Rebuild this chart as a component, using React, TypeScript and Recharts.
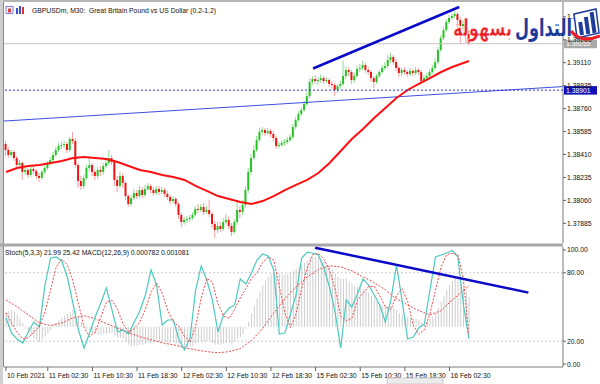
import React from 'react'
import { Bar, ComposedChart, Line, ReferenceLine, XAxis, YAxis } from 'recharts'

const FONT = '"Liberation Sans", Arial, sans-serif'
const AR_FONT = '"DejaVu Sans", sans-serif'

// GBPUSDm M30 bars, one entry per bar (open of each bar = previous close)
const firstOpen = 1.3849
const closes = [
  1.38444, 1.38406, 1.38429, 1.38383, 1.3833, 1.38345, 1.38277, 1.38292, 1.38254, 1.38299,
  1.38284, 1.38246, 1.38231, 1.38277, 1.38307, 1.38345, 1.38368, 1.38406, 1.38444, 1.38475,
  1.38482, 1.3849, 1.38444, 1.38528, 1.38513, 1.3833, 1.38208, 1.3817, 1.38231, 1.38307,
  1.3833, 1.38277, 1.38246, 1.38292, 1.38277, 1.38322, 1.38345, 1.38383, 1.38353, 1.38216,
  1.3817, 1.38246, 1.38193, 1.38093, 1.38032, 1.38078, 1.38116, 1.38093, 1.38139, 1.38101,
  1.38147, 1.3817, 1.38139, 1.38116, 1.38147, 1.38124, 1.38139, 1.38109, 1.38086, 1.38055,
  1.38071, 1.38032, 1.37949, 1.37895, 1.37911, 1.37918, 1.37926, 1.37949, 1.37995, 1.37987,
  1.3801, 1.37972, 1.37987, 1.37956, 1.3788, 1.37834, 1.37865, 1.37842, 1.37895, 1.37911,
  1.37865, 1.37819, 1.37895, 1.37987, 1.37972, 1.38025, 1.38139, 1.38277, 1.38383, 1.38444,
  1.38521, 1.38582, 1.38597, 1.38574, 1.38589, 1.38566, 1.38536, 1.38475, 1.38482, 1.38498,
  1.38505, 1.38521, 1.38544, 1.3862, 1.38673, 1.38719, 1.38749, 1.38795, 1.38856, 1.38963,
  1.38986, 1.3897, 1.38978, 1.38993, 1.3897, 1.38978, 1.38948, 1.3894, 1.38902, 1.38932,
  1.38948, 1.39009, 1.39054, 1.39039, 1.38978, 1.39009, 1.39062, 1.3907, 1.39092, 1.39054,
  1.39039, 1.38993, 1.38963, 1.39009, 1.39039, 1.3907, 1.39085, 1.39131, 1.39153, 1.39115,
  1.3907, 1.39031, 1.39054, 1.39039, 1.39024, 1.39047, 1.39031, 1.39054, 1.39039, 1.3897,
  1.38993, 1.39009, 1.39039, 1.3907, 1.39115, 1.39207, 1.39298, 1.39359, 1.3942, 1.39451,
  1.39466, 1.39481, 1.39436, 1.3939, 1.39405, 1.39329, 1.39255,
]
const highs = [
  1.38513, 1.38468, 1.38444, 1.38444, 1.38398, 1.38368, 1.3836, 1.38315, 1.38307, 1.38315,
  1.38322, 1.38299, 1.38269, 1.38292, 1.38322, 1.3836, 1.38391, 1.38429, 1.38468, 1.38498,
  1.38506, 1.38513, 1.38506, 1.38544, 1.38582, 1.38536, 1.38345, 1.38246, 1.38254, 1.3833,
  1.38383, 1.38345, 1.38292, 1.38315, 1.38322, 1.38345, 1.38375, 1.38444, 1.38406, 1.38368,
  1.38246, 1.38277, 1.38269, 1.38208, 1.38108, 1.38101, 1.38147, 1.38139, 1.3817, 1.38163,
  1.38178, 1.38193, 1.38185, 1.38163, 1.3817, 1.3817, 1.38163, 1.38155, 1.38131, 1.38101,
  1.38093, 1.38086, 1.38048, 1.37964, 1.37934, 1.37941, 1.37949, 1.37972, 1.38017, 1.38032,
  1.38032, 1.3804, 1.38017, 1.38063, 1.37972, 1.37903, 1.37896, 1.37896, 1.37926, 1.37956,
  1.37934, 1.37888, 1.37918, 1.38063, 1.38017, 1.38063, 1.3817, 1.38307, 1.38413, 1.38483,
  1.38551, 1.38612, 1.3862, 1.38612, 1.38612, 1.38605, 1.38589, 1.38551, 1.38506, 1.38521,
  1.38528, 1.38544, 1.38566, 1.38643, 1.38696, 1.38741, 1.38772, 1.38818, 1.38887, 1.38993,
  1.39008, 1.39016, 1.39001, 1.39023, 1.39008, 1.39001, 1.38993, 1.3897, 1.38955, 1.38947,
  1.3897, 1.39123, 1.39085, 1.39077, 1.39054, 1.39031, 1.39085, 1.391, 1.39123, 1.39108,
  1.39077, 1.39054, 1.39008, 1.39023, 1.39054, 1.39093, 1.39116, 1.39169, 1.39184, 1.39169,
  1.39138, 1.39085, 1.3907, 1.39077, 1.39054, 1.3907, 1.39062, 1.39077, 1.3907, 1.39054,
  1.39016, 1.39031, 1.39062, 1.39093, 1.39146, 1.3923, 1.39321, 1.39382, 1.39443, 1.39474,
  1.39489, 1.39504, 1.39497, 1.39459, 1.39436, 1.3942, 1.39359,
]
const lows = [
  1.38398, 1.38383, 1.38391, 1.3836, 1.38307, 1.38315, 1.38216, 1.38254, 1.38231, 1.38238,
  1.38261, 1.38223, 1.38201, 1.38216, 1.38261, 1.38292, 1.3833, 1.38353, 1.38391, 1.38429,
  1.38452, 1.3846, 1.38421, 1.38429, 1.3849, 1.38307, 1.38155, 1.38139, 1.38147, 1.38216,
  1.38284, 1.38246, 1.38216, 1.38223, 1.38246, 1.38254, 1.38307, 1.3833, 1.3833, 1.3817,
  1.38124, 1.38155, 1.38155, 1.38063, 1.3801, 1.38017, 1.38063, 1.38071, 1.38078, 1.38078,
  1.38086, 1.38131, 1.38116, 1.38093, 1.38101, 1.38101, 1.38108, 1.38086, 1.38063, 1.38032,
  1.3804, 1.3801, 1.37918, 1.37857, 1.37873, 1.37888, 1.37896, 1.37911, 1.37934, 1.37964,
  1.37972, 1.37949, 1.37956, 1.37934, 1.3785, 1.37773, 1.37811, 1.37819, 1.37827, 1.3788,
  1.37842, 1.37788, 1.37804, 1.37873, 1.37926, 1.37949, 1.38002, 1.38116, 1.38254, 1.38368,
  1.38429, 1.38506, 1.38559, 1.38551, 1.38559, 1.38544, 1.38513, 1.38452, 1.3846, 1.38468,
  1.38475, 1.3849, 1.38506, 1.38528, 1.38605, 1.38658, 1.38704, 1.38734, 1.3878, 1.38841,
  1.3894, 1.38948, 1.3894, 1.38955, 1.38948, 1.38955, 1.38925, 1.38909, 1.38856, 1.38879,
  1.38909, 1.38932, 1.38986, 1.39008, 1.38948, 1.38955, 1.38993, 1.39039, 1.39054, 1.39031,
  1.39016, 1.38963, 1.38917, 1.38948, 1.38993, 1.39024, 1.39054, 1.3907, 1.39108, 1.39093,
  1.39047, 1.39001, 1.39008, 1.39016, 1.39001, 1.39008, 1.39008, 1.39016, 1.39016, 1.38948,
  1.38955, 1.38978, 1.38993, 1.39024, 1.39054, 1.391, 1.39192, 1.39283, 1.39344, 1.39405,
  1.39436, 1.39451, 1.39313, 1.3926, 1.39359, 1.3926, 1.39245,
]
// moving average, read every 4th bar (last value = last bar)
const maEvery4 = [
  1.38277, 1.38307, 1.38322, 1.3833, 1.38345, 1.3836, 1.38383, 1.38391, 1.38383, 1.38375,
  1.38353, 1.38322, 1.38292, 1.38277, 1.38254, 1.38239, 1.38216, 1.3817, 1.38132, 1.38093,
  1.38071, 1.38048, 1.38032, 1.38055, 1.38093, 1.38139, 1.38178, 1.38216, 1.38269, 1.38345,
  1.38437, 1.38528, 1.38604, 1.38688, 1.38765, 1.38841, 1.38902, 1.38948, 1.38993, 1.39039,
  1.39077, 1.39108, 1.39123,
]
// MACD(12,26,9) main values, one per bar
const macdHist = [
  0.00036, 0.00042, 0.00044, 0.00039, 0.00031, 0.00021, 0.0001, -0.00005, -0.00016, -0.00023,
  -0.00031, -0.00036, -0.00039, -0.00034, -0.00026, -0.00018, -0.00008, 0.00003, 0.0001, 0.00018,
  0.00023, 0.00029, 0.00034, 0.00039, 0.00044, 0.00042, 0.00026, 0.00013, 0.00003, -0.00005,
  -0.0001, -0.00016, -0.00018, -0.00021, -0.00021, -0.00018, -0.00018, -0.00016, -0.00016, -0.00023,
  -0.00029, -0.00029, -0.00031, -0.00039, -0.00047, -0.0005, -0.0005, -0.0005, -0.00047, -0.00047,
  -0.00044, -0.00042, -0.00042, -0.00042, -0.00039, -0.00039, -0.00039, -0.00039, -0.00042, -0.00042,
  -0.00042, -0.00044, -0.0005, -0.00055, -0.00055, -0.00055, -0.00052, -0.0005, -0.00044, -0.00042,
  -0.00039, -0.00039, -0.00036, -0.00036, -0.00042, -0.00047, -0.00047, -0.00047, -0.00044, -0.00042,
  -0.00042, -0.00044, -0.00039, -0.00031, -0.00026, -0.00018, -0.00005, 0.00013, 0.00034, 0.00055,
  0.00073, 0.00091, 0.00107, 0.0012, 0.0013, 0.00138, 0.00141, 0.00141, 0.00138, 0.00136,
  0.00136, 0.00138, 0.00141, 0.00146, 0.00151, 0.00156, 0.00162, 0.00167, 0.00172, 0.0018,
  0.00182, 0.00182, 0.0018, 0.00175, 0.00169, 0.00162, 0.00156, 0.00149, 0.00138, 0.0013,
  0.00125, 0.00125, 0.00125, 0.00117, 0.00112, 0.00107, 0.00104, 0.00102, 0.00099, 0.00094,
  0.00089, 0.00081, 0.0007, 0.00065, 0.0006, 0.00055, 0.00052, 0.00052, 0.00052, 0.0005,
  0.00044, 0.00036, 0.00031, 0.00029, 0.00026, 0.00023, 0.00021, 0.00021, 0.00018, 0.00013,
  0.00013, 0.00016, 0.00021, 0.00026, 0.00036, 0.0005, 0.00065, 0.00081, 0.00096, 0.00109,
  0.0012, 0.00128, 0.00125, 0.00117, 0.00104, 0.00091, 0.000782,
]
const macdSignalEvery4 = [
  0.0007, 0.00052, 0.00031, 0.0001, 0.00003, 0.0001, 0.00023, 0.00029, 0.00021, 0.00008,
  -0.00003, -0.00016, -0.00026, -0.00034, -0.00042, -0.00047, -0.00055, -0.0006, -0.00065, -0.00068,
  -0.00065, -0.00057, -0.00036, -0.00005, 0.00036, 0.00073, 0.00104, 0.0013, 0.00149, 0.00159,
  0.00156, 0.00146, 0.0013, 0.00115, 0.00096, 0.00073, 0.00057, 0.00042, 0.00031, 0.00042,
  0.0007, 0.00094, 0.001081,
]
// Stochastic(5,3,3), read every 2nd bar
const stochKEvery2 = [
  40.4, 27.2, 21.9, 18.4, 28.1, 36.8, 32.5, 69.3, 93.0, 93.9, 90.4, 76.3, 53.5, 29.8, 14.0, 27.2,
  41.2, 53.5, 66.7, 47.4, 28.1, 29.8, 26.3, 36.8, 46.5, 60.5, 82.5, 69.3, 34.2, 38.6, 38.6, 21.9,
  12.3, 22.8, 64.9, 86.0, 73.7, 56.1, 28.1, 43.0, 49.1, 51.8, 74.6, 70.2, 79.8, 91.2, 96.5, 94.7,
  82.5, 26.3, 27.2, 43.9, 60.5, 93.0, 98.2, 97.4, 95.6, 84.2, 67.5, 45.6, 14.0, 56.1, 50.0, 61.4,
  74.6, 69.3, 60.5, 51.8, 36.8, 56.1, 86.8, 56.1, 21.9, 23.7, 31.6, 35.1, 64.9, 93.9, 95.6, 97.4,
  99.5, 93.9, 52.0, 21.99,
]
const stochDEvery2 = [
  45, 36, 28, 22, 23, 28, 33, 46, 65, 85, 92, 87, 73, 53, 32, 24,
  28, 41, 54, 56, 48, 35, 28, 31, 37, 48, 63, 71, 62, 47, 37, 33,
  24, 19, 33, 58, 75, 72, 53, 42, 40, 48, 58, 66, 75, 80, 89, 94,
  91, 68, 45, 32, 44, 66, 84, 96, 97, 92, 82, 66, 42, 38, 40, 56,
  62, 68, 68, 60, 50, 48, 60, 66, 55, 34, 26, 30, 44, 65, 85, 96,
  97, 96, 74, 25.42,
]

const priceTicks = [1.37885, 1.3806, 1.38235, 1.3841, 1.38585, 1.3876, 1.38935, 1.3911, 1.39285, 1.3946]
const stochTicks = [0, 20, 80, 100]
const timeTickBars = [0, 15, 31, 47, 63, 79, 95, 111, 127, 143, 159]
const timeLabels = [
  '10 Feb 2021', '11 Feb 02:30', '11 Feb 10:30', '11 Feb 18:30', '12 Feb 02:30', '12 Feb 10:30',
  '12 Feb 18:30', '15 Feb 02:30', '15 Feb 10:30', '15 Feb 18:30', '16 Feb 02:30',
]

const bidPrice = 1.39255
const hLinePrice = 1.38901
const longTrend = [{ x: -0.7, y: 1.38665 }, { x: 199.7, y: 1.38928 }]
const priceTrend = [{ x: 110.1, y: 1.39066 }, { x: 162.5, y: 1.39535 }]
const stochTrend = [{ x: 110.8, y: 102 }, { x: 187.3, y: 62.6 }]

const X_DOMAIN: [number, number] = [-0.7, 199.7]
const PRICE_DOMAIN: [number, number] = [1.37735, 1.39573]
const STOCH_DOMAIN: [number, number] = [-2.63, 102.63]
const MACD_DOMAIN: [number, number] = [-0.00105, 0.00208]

const lastBar = closes.length - 1
const pick = (arr: number[], step: number, i: number) =>
  i % step === 0 ? arr[i / step] : i === lastBar ? arr[arr.length - 1] : null

const rows = closes.map((close, i) => ({
  i,
  open: i === 0 ? firstOpen : closes[i - 1],
  high: highs[i],
  low: lows[i],
  close,
  range: [lows[i], highs[i]],
  ma: pick(maEvery4, 4, i),
  hist: macdHist[i],
  signal: pick(macdSignalEvery4, 4, i),
  k: pick(stochKEvery2, 2, i),
  d: pick(stochDEvery2, 2, i),
}))

const Candle = (props: any) => {
  const { x, y, width, height, payload } = props
  if (x == null || !payload) return null
  const { open, high, low, close } = payload
  const top = Math.min(y, y + height)
  const h = Math.abs(height)
  const span = high - low || 1e-9
  const py = (v: number) => top + ((high - v) / span) * h
  const up = close >= open
  const cx = x + width / 2
  const bTop = py(Math.max(open, close))
  const bBot = py(Math.min(open, close))
  return (
    <g>
      <line x1={cx} x2={cx} y1={top} y2={top + h} stroke={up ? '#8fdc8f' : '#f7a0a0'} strokeWidth={1} />
      <rect x={cx - 1} y={bTop} width={2} height={Math.max(1, bBot - bTop)} fill={up ? '#27c427' : '#ee1414'} />
    </g>
  )
}

const RightTick = (props: any) => {
  const { x, y, payload, digits } = props
  return (
    <g>
      <line x1={x} x2={x + 3} y1={y} y2={y} stroke="#606060" />
      <text x={x + 4} y={y} dominantBaseline="central" fontSize={6.8} fontFamily={FONT} fill="#111">
        {Number(payload.value).toFixed(digits)}
      </text>
    </g>
  )
}

const TimeTick = (props: any) => {
  const { x, y, payload } = props
  const label = timeLabels[timeTickBars.indexOf(payload.value)]
  return (
    <g>
      <line x1={x} x2={x} y1={y} y2={y + 4} stroke="#606060" />
      <text x={x + 1} y={y + 10.5} fontSize={6.8} fontFamily={FONT} fill="#111">{label}</text>
    </g>
  )
}

const AxisTag = (props: any) => {
  const { viewBox, text, bg } = props
  if (!viewBox) return null
  const x = viewBox.x + viewBox.width
  const y = viewBox.y
  return (
    <g>
      <rect x={x + 1} y={y - 4} width={33} height={8.5} fill={bg} />
      <text x={x + 3} y={y + 0.3} dominantBaseline="central" fontSize={6.8} fontFamily={FONT} fill="#fff">{text}</text>
    </g>
  )
}

const stochHeader = `Stoch(5,3,3) ${stochKEvery2[stochKEvery2.length - 1].toFixed(2)} ${stochDEvery2[stochDEvery2.length - 1].toFixed(2)} MACD(12,26,9) ${macdHist[lastBar].toFixed(6)} ${macdSignalEvery4[macdSignalEvery4.length - 1].toFixed(6)}`

export default function App() {
  return (
    <div style={{ position: 'absolute', left: 0, top: 0, width: 600, height: 384, background: '#fff', overflow: 'hidden' }}>
      <div style={{ position: 'absolute', left: 0, top: 0 }}>
        <ComposedChart width={600} height={245} data={rows} margin={{ top: 2, right: 0, bottom: 2, left: 4 }}>
          <XAxis dataKey="i" type="number" domain={X_DOMAIN} allowDataOverflow hide />
          <YAxis
            orientation="right"
            width={37}
            domain={PRICE_DOMAIN}
            allowDataOverflow
            ticks={priceTicks}
            interval={0}
            tickSize={0}
            tickMargin={0}
            axisLine={{ stroke: '#7a7a7a' }}
            tickLine={false}
            tick={<RightTick digits={5} />}
          />
          <ReferenceLine y={bidPrice} stroke="#c4c4c4" strokeWidth={1} ifOverflow="visible"
            label={<AxisTag text={bidPrice.toFixed(5)} bg="#a9a9a9" />} />
          <ReferenceLine segment={longTrend} stroke="#3d4fe0" strokeWidth={1} ifOverflow="visible" />
          <Bar dataKey="range" barSize={2} shape={<Candle />} isAnimationActive={false} />
          <Line dataKey="ma" type="linear" stroke="#ff0f0f" strokeWidth={2} dot={false} activeDot={false} connectNulls isAnimationActive={false} />
          <ReferenceLine y={hLinePrice} stroke="#2f2fd0" strokeDasharray="2 2" strokeWidth={1} ifOverflow="visible"
            label={<AxisTag text={hLinePrice.toFixed(5)} bg="#1010b4" />} />
          <ReferenceLine segment={priceTrend} stroke="#0a0ac8" strokeWidth={2.5} ifOverflow="visible" />
        </ComposedChart>
      </div>
      <div style={{ position: 'absolute', left: 0, top: 246 }}>
        <ComposedChart width={600} height={138} data={rows} margin={{ top: 1, right: 0, bottom: 0, left: 4 }}>
          <XAxis
            dataKey="i"
            type="number"
            domain={X_DOMAIN}
            allowDataOverflow
            ticks={timeTickBars}
            interval={0}
            height={17}
            tickSize={0}
            tickMargin={0}
            axisLine={{ stroke: '#7a7a7a' }}
            tickLine={false}
            tick={<TimeTick />}
          />
          <YAxis yAxisId="macd" orientation="left" hide width={0} domain={MACD_DOMAIN} allowDataOverflow />
          <YAxis
            yAxisId="stoch"
            orientation="right"
            width={37}
            domain={STOCH_DOMAIN}
            allowDataOverflow
            ticks={stochTicks}
            interval={0}
            tickSize={0}
            tickMargin={0}
            axisLine={{ stroke: '#7a7a7a' }}
            tickLine={false}
            tick={<RightTick digits={2} />}
          />
          <ReferenceLine yAxisId="stoch" y={80} stroke="#c8c8c8" strokeDasharray="2 2" />
          <ReferenceLine yAxisId="stoch" y={20} stroke="#c8c8c8" strokeDasharray="2 2" />
          <Bar yAxisId="macd" dataKey="hist" barSize={1} fill="#cdcdcd" isAnimationActive={false} />
          <Line yAxisId="macd" dataKey="signal" stroke="#f24848" strokeWidth={1} strokeDasharray="2 1.5" dot={false} activeDot={false} connectNulls isAnimationActive={false} />
          <Line yAxisId="stoch" dataKey="k" stroke="#4cc9bf" strokeWidth={1.2} dot={false} activeDot={false} connectNulls isAnimationActive={false} />
          <Line yAxisId="stoch" dataKey="d" stroke="#f24848" strokeWidth={1} strokeDasharray="2 1.5" dot={false} activeDot={false} connectNulls isAnimationActive={false} />
          <ReferenceLine yAxisId="stoch" segment={stochTrend} stroke="#0a0ac8" strokeWidth={2.5} ifOverflow="visible" />
        </ComposedChart>
      </div>
      <svg width={600} height={384} style={{ position: 'absolute', left: 0, top: 0, pointerEvents: 'none' }}>
        <rect x={0} y={0} width={600} height={2} fill="#b4b4b4" />
        <rect x={0} y={0} width={3} height={384} fill="#cfcfcf" />
        <line x1={3.5} x2={3.5} y1={2} y2={367} stroke="#8a8a8a" />
        <rect x={0} y={243.5} width={563} height={3} fill="#a8a8a8" />
        <rect x={387} y={378} width={56} height={6} fill="#ececec" stroke="#cfcfcf" />
        {/* title icons */}
        <rect x={6} y={6.5} width={7} height={7} fill="#f4f4ff" stroke="#6a6ad0" strokeWidth={0.8} />
        <rect x={8} y={8.5} width={3} height={4} fill="#e04040" />
        <rect x={16} y={8} width={2} height={6} fill="#2f4fd0" />
        <rect x={19} y={6} width={2} height={8} fill="#2f4fd0" />
        <rect x={22} y={7} width={2} height={7} fill="#e03030" />
        <text x={32} y={12.5} fontSize={6.8} fontFamily={FONT} fill="#111" style={{ whiteSpace: 'pre' }}>
          GBPUSDm, M30:  Great Britain Pound vs US Dollar (0.2-1.2)
        </text>
        <text x={5} y={254.5} fontSize={6.8} fontFamily={FONT} fill="#111">{stochHeader}</text>
        {/* broker watermark */}
        <text x={512} y={36} textAnchor="end" fontFamily={AR_FONT} fontWeight="bold" fontSize={24}
          fill="#ee1c25" stroke="#fff" strokeWidth={0.6} textLength={59} lengthAdjust="spacingAndGlyphs">بسهولة</text>
        <text x={572} y={36} textAnchor="end" fontFamily={AR_FONT} fontWeight="bold" fontSize={24}
          fill="#1f3c9c" textLength={57} lengthAdjust="spacingAndGlyphs">التداول</text>
        <polygon points="574,14 596,9 599,33 577,38" fill="#fff" stroke="#1f3c9c" strokeWidth={1.5} />
        <rect x={579} y={22} width={4} height={13} fill="#1f3c9c" transform="rotate(-8 581 28)" />
        <rect x={585} y={17} width={4} height={17} fill="#1f3c9c" transform="rotate(-8 587 25)" />
        <rect x={591} y={12} width={4} height={21} fill="#1f3c9c" transform="rotate(-8 593 22)" />
        <path d="M 571 31 Q 581 44 600 36" stroke="#ee1c25" strokeWidth={3} fill="none" />
      </svg>
    </div>
  )
}
